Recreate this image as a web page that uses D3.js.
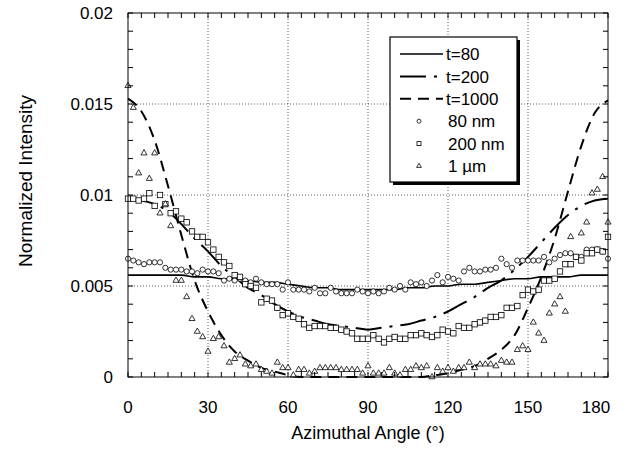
<!DOCTYPE html>
<html>
<head>
<meta charset="utf-8">
<script src="https://cdn.jsdelivr.net/npm/d3@7"></script>
<style>
  html, body { margin: 0; padding: 0; background: #fff; }
  svg { display: block; font-family: "Liberation Sans", Arial, sans-serif; }
</style>
</head>
<body>
<svg id="chart" width="639" height="451"></svg>
<script>
// measured points every 2 degrees
const angles = [0,2,4,6,8,10,12,14,16,18,20,22,24,26,28,30,32,34,36,38,40,42,44,46,48,50,52,54,56,58,
  60,62,64,66,68,70,72,74,76,78,80,82,84,86,88,90,92,94,96,98,100,102,104,106,108,110,112,114,116,118,
  120,122,124,126,128,130,132,134,136,138,140,142,144,146,148,150,152,154,156,158,160,162,164,166,168,170,
  172,174,176,178,180];

const nm80 = [0.0065,0.0064,0.0063,0.0062,0.0063,0.0063,0.0063,0.0060,0.0059,0.0059,0.0059,0.0058,0.0058,0.0057,0.0059,
  0.0058,0.0058,0.0057,0.0053,0.0054,0.0053,0.0054,0.0053,0.0052,0.0054,0.0052,0.0051,0.0051,0.0051,0.0048,
  0.0052,0.0048,0.0048,0.0048,0.0047,0.0049,0.0046,0.0046,0.0049,0.0047,0.0046,0.0046,0.0046,0.0048,0.0047,
  0.0046,0.0047,0.0046,0.0047,0.0049,0.0048,0.0050,0.0048,0.0052,0.0051,0.0052,0.0050,0.0053,0.0056,0.0052,
  0.0055,0.0054,0.0053,0.0058,0.0060,0.0058,0.0058,0.0059,0.0059,0.0060,0.0065,0.0062,0.0060,0.0064,0.0064,
  0.0064,0.0064,0.0064,0.0066,0.0063,0.0065,0.0067,0.0068,0.0068,0.0066,0.0066,0.0070,0.0070,0.0070,0.0069,0.0065];

const nm200 = [0.0098,0.0098,0.0097,0.0098,0.0101,0.0094,0.0100,0.0095,0.0090,0.0091,0.0087,0.0085,0.0080,0.0077,0.0077,
  0.0074,0.0070,0.0066,0.0063,0.0061,0.0056,0.0055,0.0051,0.0050,0.0049,0.0041,0.0043,0.0042,0.0038,0.0034,
  0.0035,0.0033,0.0032,0.0029,0.0027,0.0028,0.0028,0.0028,0.0027,0.0027,0.0026,0.0025,0.0024,0.0021,0.0021,
  0.0021,0.0023,0.0021,0.0019,0.0021,0.0022,0.0021,0.0021,0.0023,0.0023,0.0024,0.0023,0.0022,0.0023,0.0026,
  0.0025,0.0024,0.0028,0.0027,0.0027,0.0029,0.0030,0.0031,0.0033,0.0033,0.0034,0.0038,0.0038,0.0039,0.0045,
  0.0048,0.0047,0.0048,0.0053,0.0053,0.0054,0.0058,0.0062,0.0062,0.0066,0.0064,0.0068,0.0068,0.0070,0.0069,0.0077];

const um1 = [0.0160,0.0148,0.0112,0.0123,0.0109,0.0123,0.0090,0.0095,0.0083,0.0053,0.0053,0.0044,0.0032,0.0025,0.0022,
  0.0014,0.0021,0.0022,0.0017,0.0008,0.0010,0.0012,0.0007,0.0006,0.0007,0.0004,0.0003,0.0002,0.0008,0.0005,
  0.0005,0.0001,0.0004,0.0004,0.0002,0.0003,0.0005,0.0005,0.0005,0.0005,0.0004,0.0004,0.0004,0.0004,0.0002,
  0.0006,0.0002,0.0002,0.0002,0.0005,0.0002,0.0001,0.0004,0.0004,0.0006,0.0005,0.0006,0.0000,0.0005,0.0003,
  0.0005,0.0003,0.0005,0.0005,0.0008,0.0005,0.0007,0.0007,0.0007,0.0006,0.0009,0.0008,0.0008,0.0015,0.0017,
  0.0015,0.0030,0.0024,0.0020,0.0035,0.0040,0.0044,0.0036,0.0077,null,0.0079,0.0085,0.0101,0.0103,0.0110,0.0085];

// model curves every 5 degrees
const lineAngles = [0,5,10,15,20,25,30,35,40,45,50,55,60,65,70,75,80,85,90,95,100,105,110,115,120,125,130,
  135,140,145,150,155,160,165,170,175,180];
const t80 = [0.0056,0.0056,0.0056,0.0056,0.0056,0.0055,0.0055,0.0054,0.0054,0.0053,0.0052,0.0052,0.0051,0.0050,
  0.0049,0.0049,0.0048,0.0048,0.0048,0.0048,0.0048,0.0049,0.0049,0.0050,0.0050,0.0051,0.0051,0.0052,0.0053,
  0.0054,0.0054,0.0055,0.0055,0.0055,0.0056,0.0056,0.0056];
const t200 = [0.0098,0.0097,0.0095,0.0091,0.0084,0.0076,0.0069,0.0061,0.0055,0.0049,0.0045,0.0040,0.0036,0.0033,
  0.0031,0.0029,0.0028,0.0027,0.0026,0.0027,0.0028,0.0029,0.0031,0.0033,0.0036,0.0040,0.0044,0.0049,0.0053,
  0.0059,0.0066,0.0074,0.0082,0.0089,0.0094,0.0097,0.0098];
const t1000 = [0.0153,0.0146,0.0130,0.0105,0.0078,0.0053,0.0036,0.0023,0.0014,0.0009,0.0005,0.0003,0.0001,0.0000,
  0.0000,0.0000,0.0000,0.0000,0.0000,0.0000,0.0000,0.0000,0.0000,0.0001,0.0002,0.0004,0.0006,0.0010,0.0015,
  0.0023,0.0038,0.0055,0.0076,0.0102,0.0127,0.0145,0.0152];

const xTicks = [0, 30, 60, 90, 120, 150, 180];
const yTicks = [0, 0.005, 0.01, 0.015, 0.02];
const xTitle = "Azimuthal Angle (°)";
const yTitle = "Normalized Intensity";

const svg = d3.select("#chart");
const plot = { left: 128, right: 608, top: 13, bottom: 377 };

const x = d3.scaleLinear().domain([0, 180]).range([plot.left, plot.right]);
const y = d3.scaleLinear().domain([0, 0.02]).range([plot.bottom, plot.top]);

// dotted grid
const grid = svg.append("g").attr("stroke", "#333").attr("stroke-width", 0.8)
  .attr("stroke-dasharray", "1,2");
grid.selectAll("line.gx").data(xTicks.slice(1, -1)).join("line")
  .attr("x1", d => x(d)).attr("x2", d => x(d))
  .attr("y1", plot.top).attr("y2", plot.bottom);
grid.selectAll("line.gy").data(yTicks.slice(1, -1)).join("line")
  .attr("x1", plot.left).attr("x2", plot.right)
  .attr("y1", d => y(d)).attr("y2", d => y(d));

// curves
const curves = [
  { data: t80, dash: null, width: 1.6 },
  { data: t200, dash: "26,8,3,8", width: 2 },
  { data: t1000, dash: "11,7", width: 2 }
];
const line = d3.line()
  .x((d, i) => x(lineAngles[i]))
  .y(d => y(d))
  .curve(d3.curveMonotoneX);
curves.forEach(c => {
  svg.append("path")
    .attr("d", line(c.data))
    .attr("fill", "none")
    .attr("stroke", "#000")
    .attr("stroke-width", c.width)
    .attr("stroke-dasharray", c.dash);
});

// markers
const pts = (vals) => angles.map((a, i) => ({ a, v: vals[i] })).filter(d => d.v != null);
const mk = svg.append("g").attr("fill", "#fff").attr("stroke", "#000").attr("stroke-width", 0.8);
mk.selectAll("circle").data(pts(nm80)).join("circle")
  .attr("cx", d => x(d.a)).attr("cy", d => y(d.v)).attr("r", 2.6);
mk.selectAll("rect").data(pts(nm200)).join("rect")
  .attr("x", d => x(d.a) - 2.7).attr("y", d => y(d.v) - 2.7)
  .attr("width", 5.4).attr("height", 5.4);
const tri = d3.symbol(d3.symbolTriangle, 16);
mk.selectAll("path").data(pts(um1)).join("path")
  .attr("d", tri)
  .attr("transform", d => `translate(${x(d.a)},${y(d.v)})`);

// axes: ticks inward on all four sides
const minorX = d3.range(0, 181, 5);
const minorY = d3.range(0, 0.02001, 0.001);
const frame = svg.append("g").attr("stroke", "#000").attr("stroke-width", 1);
frame.append("rect")
  .attr("x", plot.left).attr("y", plot.top)
  .attr("width", plot.right - plot.left).attr("height", plot.bottom - plot.top)
  .attr("fill", "none");
frame.selectAll("line.tx").data(minorX).join("line")
  .attr("x1", d => x(d)).attr("x2", d => x(d))
  .attr("y1", plot.bottom).attr("y2", plot.bottom - 5);
frame.selectAll("line.tx2").data(minorX).join("line")
  .attr("x1", d => x(d)).attr("x2", d => x(d))
  .attr("y1", plot.top).attr("y2", plot.top + 5);
frame.selectAll("line.ty").data(minorY).join("line")
  .attr("x1", plot.left).attr("x2", plot.left + 5)
  .attr("y1", d => y(d)).attr("y2", d => y(d));
frame.selectAll("line.ty2").data(minorY).join("line")
  .attr("x1", plot.right).attr("x2", plot.right - 5)
  .attr("y1", d => y(d)).attr("y2", d => y(d));

// tick labels
svg.append("g").selectAll("text").data(xTicks).join("text")
  .attr("x", (d, i) => x(d) - (i === xTicks.length - 1 ? 12 : 0))
  .attr("y", 413)
  .attr("text-anchor", "middle")
  .attr("font-size", 17)
  .text(d => d);
svg.append("g").selectAll("text").data(yTicks).join("text")
  .attr("x", 113)
  .attr("y", d => y(d))
  .attr("dy", "0.36em")
  .attr("text-anchor", "end")
  .attr("font-size", 17)
  .text(d => d);

svg.append("text")
  .attr("x", 368).attr("y", 439)
  .attr("text-anchor", "middle")
  .attr("font-size", 18)
  .text(xTitle);
svg.append("text")
  .attr("transform", "translate(32,181) rotate(-90)")
  .attr("text-anchor", "middle")
  .attr("font-size", 19)
  .text(yTitle);

// legend
const legendItems = [
  { label: "t=80", kind: "line", dash: null, width: 1.6 },
  { label: "t=200", kind: "line", dash: "26,8,3,8", width: 2 },
  { label: "t=1000", kind: "line", dash: "11,7", width: 2 },
  { label: "80 nm", kind: "circle" },
  { label: "200 nm", kind: "square" },
  { label: "1 µm", kind: "triangle" }
];
const lg = svg.append("g").attr("transform", "translate(390,37)");
lg.append("rect").attr("x", 3).attr("y", 3).attr("width", 127).attr("height", 145).attr("fill", "#000");
lg.append("rect").attr("width", 127).attr("height", 145).attr("fill", "#fff")
  .attr("stroke", "#000").attr("stroke-width", 1.2);
const rowY = d3.scalePoint().domain(legendItems.map(d => d.label)).range([17, 129]);
legendItems.forEach(d => {
  const cy = rowY(d.label);
  if (d.kind === "line") {
    lg.append("line").attr("x1", 10).attr("x2", 53).attr("y1", cy).attr("y2", cy)
      .attr("stroke", "#000").attr("stroke-width", d.width).attr("stroke-dasharray", d.dash);
  } else if (d.kind === "circle") {
    lg.append("circle").attr("cx", 29).attr("cy", cy).attr("r", 2)
      .attr("fill", "#fff").attr("stroke", "#000").attr("stroke-width", 0.8);
  } else if (d.kind === "square") {
    lg.append("rect").attr("x", 27).attr("y", cy - 2).attr("width", 4).attr("height", 4)
      .attr("fill", "#fff").attr("stroke", "#000").attr("stroke-width", 0.8);
  } else {
    lg.append("path").attr("d", d3.symbol(d3.symbolTriangle, 10)())
      .attr("transform", `translate(29,${cy})`)
      .attr("fill", "#fff").attr("stroke", "#000").attr("stroke-width", 0.8);
  }
  lg.append("text")
    .attr("x", d.kind === "line" ? 56 : 58)
    .attr("y", cy)
    .attr("dy", "0.36em")
    .attr("font-size", 17)
    .text(d.label);
});
</script>
</body>
</html>
